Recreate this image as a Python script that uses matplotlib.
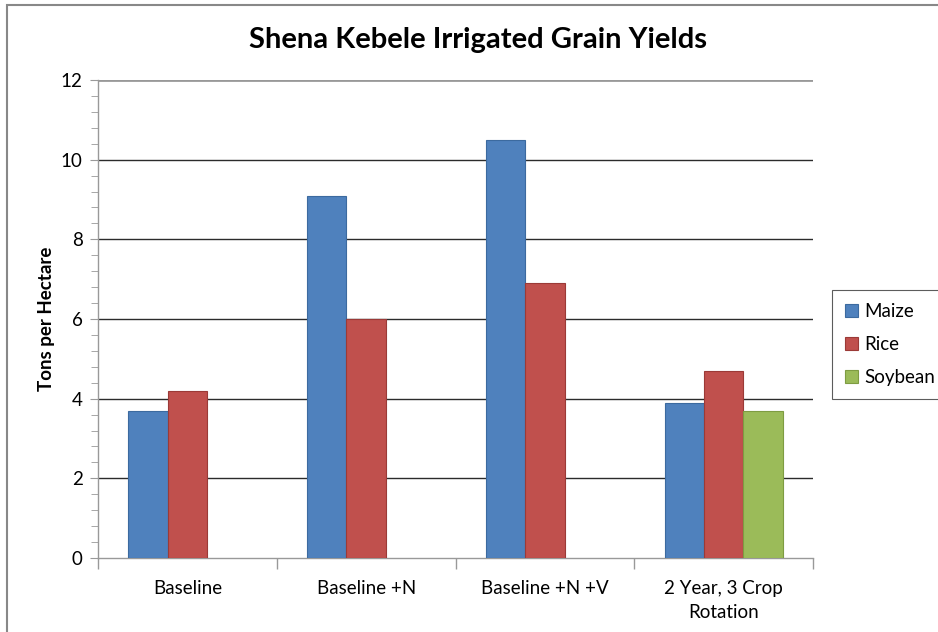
import numpy as np
import matplotlib.pyplot as plt
from matplotlib.patches import Rectangle
from matplotlib.ticker import MultipleLocator, FixedLocator

categories = ['Baseline', 'Baseline +N', 'Baseline +N +V', '2 Year, 3 Crop\nRotation']
maize = [3.7, 9.1, 10.5, 3.9]
rice = [4.2, 6.0, 6.9, 4.7]
soybean = [np.nan, np.nan, np.nan, 3.7]

plt.rcParams['font.family'] = ['Lato', 'DejaVu Sans']

fig = plt.figure(figsize=(9.38, 6.32), dpi=100)
ax = fig.add_axes([0.1045, 0.1171, 0.7623, 0.7563])

x = np.arange(len(categories))
w = 0.22
ax.bar(x - w, maize, w, color='#4F81BD', edgecolor='#3C6A9F', linewidth=0.8, label='Maize', zorder=3)
ax.bar(x, rice, w, color='#C0504D', edgecolor='#9B3A37', linewidth=0.8, label='Rice', zorder=3)
ax.bar(x + w, soybean, w, color='#9BBB59', edgecolor='#7E9C42', linewidth=0.8, label='Soybean', zorder=3)

ax.set_xlim(-0.5, len(categories) - 0.5)
ax.set_ylim(0, 12)
ax.yaxis.set_major_locator(MultipleLocator(2))
ax.yaxis.set_minor_locator(MultipleLocator(0.4))
for v in range(2, 12, 2):
    ax.axhline(v, color='#2b2b2b', linewidth=1.0, zorder=1)
ax.axhline(12, color='#999999', linewidth=2.0, zorder=1)

ax.set_xticks(x)
ax.set_xticklabels(categories, fontsize=13.5, linespacing=1.45)
ax.tick_params(axis='x', length=0, pad=16)
ax.xaxis.set_minor_locator(FixedLocator(np.arange(-0.5, len(categories), 1)))
ax.tick_params(axis='x', which='minor', length=8, color='#999999', width=1)
ax.tick_params(axis='y', which='major', length=6, color='#999999', labelsize=13.5, pad=5)
ax.tick_params(axis='y', which='minor', length=5, color='#999999')

for s in ['top', 'right']:
    ax.spines[s].set_visible(False)
for s in ['left', 'bottom']:
    ax.spines[s].set_color('#999999')
    ax.spines[s].set_linewidth(1.0)

ax.set_ylabel('Tons per Hectare', fontsize=13.5, fontweight='bold', labelpad=4)
fig.text(0.5 * (250 + 705) / 938, 1 - 40 / 632, 'Shena Kebele Irrigated Grain Yields',
         ha='center', va='center', fontsize=21, fontweight='bold')

leg = ax.legend(loc='upper left', bbox_to_anchor=(832 / 938, 1 - 290 / 632),
                bbox_transform=fig.transFigure, fontsize=13.5, frameon=True,
                fancybox=False, edgecolor='#333333', handlelength=0.7, handleheight=0.7,
                handletextpad=0.3, labelspacing=0.85, borderpad=0.7, borderaxespad=0)
leg.get_frame().set_linewidth(0.8)

fig.patches.append(Rectangle((7 / 938, -0.1), 1.2, 1 - 5 / 632 + 0.1, transform=fig.transFigure,
                             fill=False, edgecolor='#888888', linewidth=1.5))

fig.savefig('out.png', dpi=100)
